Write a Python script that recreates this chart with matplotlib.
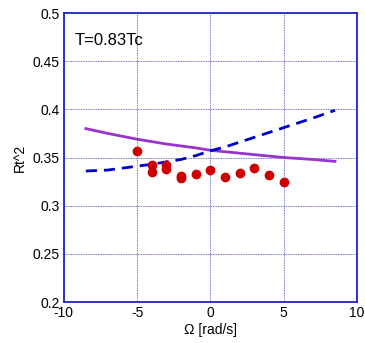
import matplotlib
matplotlib.use("Agg")
import matplotlib.pyplot as plt
from matplotlib.ticker import FormatStrFormatter

plt.rcParams["font.family"] = ["Liberation Sans", "DejaVu Sans"]
plt.rcParams["axes.unicode_minus"] = False

# measured points
omega_pts = [-5, -4, -4, -3, -3, -2, -2, -1, 0, 1, 2, 3, 4, 5]
rt2_pts = [0.357, 0.342, 0.335, 0.342, 0.338, 0.331, 0.329, 0.333, 0.337,
           0.330, 0.334, 0.339, 0.332, 0.325]

# solid purple curve
omega_solid = [-8.5, -7, -5, -3, -1, 0, 1, 3, 5, 7, 8.5]
rt2_solid = [0.380, 0.375, 0.369, 0.364, 0.360, 0.3575, 0.356, 0.353, 0.350, 0.348, 0.346]

# dashed blue curve
omega_dash = [-8.5, -7, -6, -5, -4, -3, -2, -1, 0, 1, 2, 3, 4, 5, 6, 7, 8.5]
rt2_dash = [0.336, 0.337, 0.339, 0.341, 0.343, 0.3455, 0.348, 0.352, 0.357, 0.361,
            0.366, 0.371, 0.376, 0.381, 0.386, 0.391, 0.399]

fig = plt.figure(figsize=(3.65, 3.43), dpi=100)
ax = fig.add_axes([0.175, 0.1195, 0.803, 0.8425])

ax.plot(omega_solid, rt2_solid, color="#9933cc", lw=2, zorder=3)
ax.plot(omega_dash, rt2_dash, color="#0000cc", lw=2, dashes=(4, 2.5), zorder=3)
ax.scatter(omega_pts, rt2_pts, s=36, color="#cc0000", zorder=4)

ax.set_xlim(-10, 10)
ax.set_ylim(0.2, 0.5)
ax.set_xticks([-10, -5, 0, 5, 10])
ax.set_yticks([0.2, 0.25, 0.3, 0.35, 0.4, 0.45, 0.5])
ax.yaxis.set_major_formatter(FormatStrFormatter("%g"))
ax.tick_params(length=0, labelsize=10, pad=3)
ax.grid(True, color="#4444cc", lw=0.6, dashes=(1, 1))
for s in ax.spines.values():
    s.set_color("#2222cc")
    s.set_linewidth(1.3)

ax.set_xlabel("Ω [rad/s]", fontsize=10, labelpad=2)
ax.set_ylabel("Rt^2", fontsize=10, labelpad=4)
ax.text(-9.3, 0.472, "T=0.83Tc", fontsize=12, va="center", ha="left")

fig.savefig("out.png", dpi=100)
